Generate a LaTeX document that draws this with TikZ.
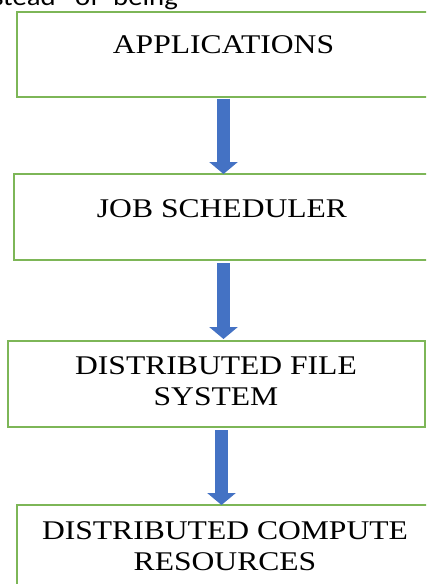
\documentclass[tikz,border=0pt]{standalone}
\usepackage{fontspec}
\setmainfont{Liberation Serif}
\newfontfamily\bodyfont{Carlito}
\usetikzlibrary{arrows.meta}
\definecolor{boxgreen}{HTML}{7DB657}
\definecolor{flowblue}{HTML}{4472C4}
\tikzset{
  layerbox/.style={draw=boxgreen, line width=1.1pt, fill=white, rectangle, inner sep=0pt},
  layertext/.style={font=\fontsize{27}{31}\selectfont, align=center, anchor=base, xscale=1.17, inner sep=0pt},
  flow/.style={draw=flowblue, line width=13pt,
    -{Triangle[width=28pt,length=12pt,fill=flowblue,color=flowblue]}},
  runtext/.style={font=\bodyfont\fontsize{25}{30}\selectfont, xscale=1.15, inner sep=0pt}
}
\begin{document}
\begin{tikzpicture}[x=1pt,y=-1pt]
  \useasboundingbox (0,0) rectangle (426,584);
  \clip (0,0) rectangle (426,584);

  % running text of the page above the figure
  \node[runtext, anchor=base east] (w1) at (56,5.5) {instead};
  \node[runtext, anchor=base west] (w2) at (75,5.5) {of};
  \node[runtext, anchor=base west] (w3) at (113,5.5) {being};

  % layer boxes
  \node[layerbox, minimum width=423pt, minimum height=85pt] (apps) at (228.5,54.5) {};
  \node[layerbox, minimum width=426pt, minimum height=86pt] (sched) at (227,217) {};
  \node[layerbox, minimum width=417pt, minimum height=86pt] (dfs) at (216.5,384) {};
  \node[layerbox, minimum width=423pt, minimum height=100pt] (dcr) at (228.5,555) {};

  % layer captions (base anchor sits on the last line)
  \node[layertext] (tapps) at (223.5,53) {APPLICATIONS};
  \node[layertext] (tsched) at (222,217) {JOB SCHEDULER};
  \node[layertext] (tdfs) at (216,405) {DISTRIBUTED FILE\\SYSTEM};
  \node[layertext] (tdcr) at (225,570) {DISTRIBUTED COMPUTE\\RESOURCES};

  % downward flow between layers
  \coordinate (a1s) at (223.5,98.5);
  \coordinate (a1e) at (223.5,174);
  \coordinate (a2s) at (223.5,263);
  \coordinate (a2e) at (223.5,339);
  \coordinate (a3s) at (221.5,430);
  \coordinate (a3e) at (221.5,505);
  \draw[flow] (a1s) -- (a1e);
  \draw[flow] (a2s) -- (a2e);
  \draw[flow] (a3s) -- (a3e);
\end{tikzpicture}
\end{document}
